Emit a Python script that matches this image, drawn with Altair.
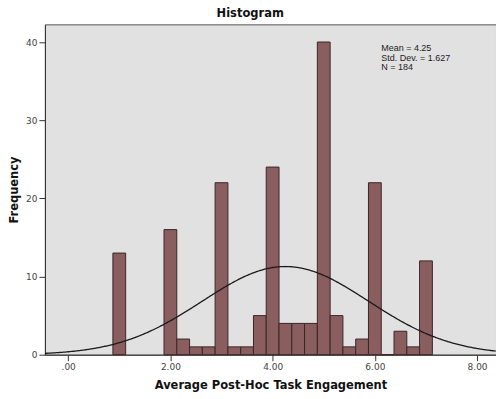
import altair as alt
import pandas as pd

# Histogram of average post-hoc task engagement (bin width 0.25)
bin_centers = [1.00, 2.00, 2.25, 2.50, 2.75, 3.00, 3.25, 3.50, 3.75, 4.00, 4.25,
               4.50, 4.75, 5.00, 5.25, 5.50, 5.75, 6.00, 6.25, 6.50, 6.75, 7.00]
frequencies = [13, 16, 2, 1, 1, 22, 1, 1, 5, 24, 4,
               4, 4, 40, 5, 1, 2, 22, 0, 3, 1, 12]
bin_width = 0.25

# Summary statistics shown in the corner box
mean_value = 4.25
std_dev = 1.627
n_cases = 184
stats_lines = [f"Mean = {mean_value}", f"Std. Dev. = {std_dev}", f"N = {n_cases}"]

x_ticks = [0, 2, 4, 6, 8]
y_ticks = [0, 10, 20, 30, 40]
x_domain = [-0.455, 8.37]
y_domain = [0, 42.26]

W, H = 452, 331
bar_fill = "#8a5e5e"
bar_edge = "#3a2626"
panel_bg = "#e1e1e1"

hist = pd.DataFrame({"center": bin_centers, "count": frequencies})

x_scale = alt.Scale(domain=x_domain, nice=False, zero=False)
y_scale = alt.Scale(domain=y_domain, nice=False)

x_axis = alt.Axis(
    values=x_ticks, title="Average Post-Hoc Task Engagement",
    labelExpr="datum.value == 0 ? '.00' : format(datum.value, '.2f')",
    grid=False, tickSize=6, tickColor="#333", domainColor="#333",
    labelFont="DejaVu Sans", labelFontSize=9, labelColor="#444", labelPadding=2,
    titleFont="DejaVu Sans", titleFontSize=11.5, titleFontWeight="bold",
    titleColor="#111", titlePadding=8,
)
y_axis = alt.Axis(
    values=y_ticks, title="Frequency", format="d",
    grid=False, tickSize=6, tickColor="#333", domainColor="#333",
    labelFont="DejaVu Sans", labelFontSize=9, labelColor="#444", labelPadding=2,
    titleFont="DejaVu Sans", titleFontSize=11.5, titleFontWeight="bold",
    titleColor="#111", titlePadding=6,
)

bars = alt.Chart(hist).transform_calculate(
    lo=f"datum.center - {bin_width / 2}",
    hi=f"datum.center + {bin_width / 2}",
).mark_bar(fill=bar_fill, stroke=bar_edge, strokeWidth=1, opacity=1).encode(
    x=alt.X("lo:Q", scale=x_scale, axis=x_axis),
    x2="hi:Q",
    y=alt.Y("count:Q", scale=y_scale, axis=y_axis),
    y2=alt.datum(0),
)

# Normal curve scaled to the histogram: N * bin width * pdf(x)
curve = alt.Chart(alt.sequence(start=x_domain[0], stop=x_domain[1], step=0.02, as_="v")).transform_calculate(
    dens=(f"{n_cases} * {bin_width} / ({std_dev} * sqrt(2 * PI)) * "
          f"exp(-0.5 * pow((datum.v - {mean_value}) / {std_dev}, 2))")
).mark_line(color="#1a1a1a", strokeWidth=1.3, clip=True).encode(
    x=alt.X("v:Q", scale=x_scale),
    y=alt.Y("dens:Q", scale=y_scale),
)

# Statistics box: one text line per row, stacked 9.4 px apart
stat_layers = [
    alt.Chart(pd.DataFrame({"txt": [line]})).mark_text(
        align="left", baseline="alphabetic", font="Liberation Sans", fontSize=9,
        color="#222",
    ).encode(x=alt.value(337), y=alt.value(27 + 9.4 * i), text="txt:N")
    for i, line in enumerate(stats_lines)
]

chart = alt.layer(bars, curve, *stat_layers).properties(
    width=W, height=H,
    title=alt.TitleParams(
        "Histogram", anchor="start", frame="group", dx=172, offset=5,
        font="DejaVu Sans", fontSize=11.5, fontWeight="bold", color="#111",
    ),
    autosize=alt.AutoSizeParams(type="none"),
    padding={"left": 45, "top": 24, "right": 0, "bottom": 44},
    background="white",
).configure_view(
    fill=panel_bg, stroke="#555", strokeWidth=1,
)

chart.save("out.html", embed_options={"renderer": "svg", "actions": False})
